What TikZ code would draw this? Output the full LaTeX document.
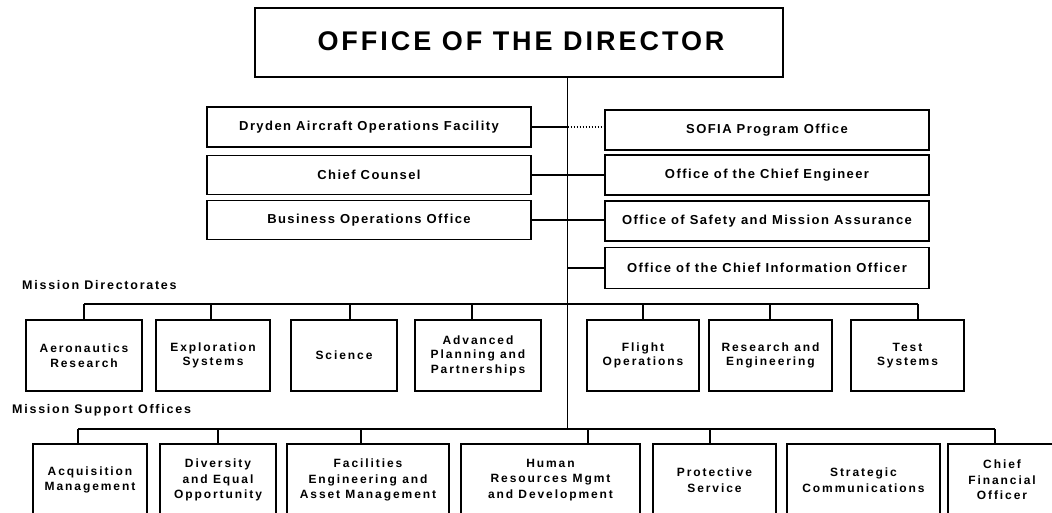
\documentclass[tikz,border=0pt]{standalone}
\usepackage{fontspec}
\setmainfont{Liberation Sans}[LetterSpace=11]
\begin{document}
\begin{tikzpicture}[x=1pt,y=-1pt,
  titlebox/.style={draw,line width=1.7pt,inner sep=0pt},
  staffbox/.style={draw,line width=1.7pt,inner sep=0pt,minimum width=324pt,font=\bfseries\fontsize{13}{15}\selectfont},
  unitbox/.style={draw,line width=1.7pt,inner sep=0pt,align=center,minimum height=71pt,font=\bfseries\fontsize{12}{14.5}\selectfont\addfontfeatures{LetterSpace=16}},
  supbox/.style={draw,line width=1.7pt,inner sep=0pt,align=center,minimum height=72pt,font=\bfseries\fontsize{12}{15.5}\selectfont\addfontfeatures{LetterSpace=16}},
  grouplabel/.style={anchor=west,inner sep=0pt,font=\bfseries\fontsize{12.5}{14}\selectfont\addfontfeatures{LetterSpace=14}},
  link/.style={line width=1.8pt},
  spineline/.style={line width=1pt}]
\clip (0,0) rectangle (1052,512);
\fill[white] (0,0) rectangle (1052,512);
% director
\node[titlebox,minimum width=528pt,minimum height=69pt] (dir) at (519,42.5) {};
\node[inner sep=0pt,font=\bfseries\fontsize{27}{30}\selectfont] (dirt) at (521,41.5) {OFFICE OF THE DIRECTOR};
% spine
\coordinate (sTop) at (567.5,77);
\coordinate (sBus1) at (567.5,304);
\coordinate (sBot) at (567.5,429);
\draw[spineline] (sTop) -- (sBot);
% staff offices left
\node[staffbox,minimum height=40pt] (dry) at (369,127) {Dryden Aircraft Operations Facility};
\node[staffbox,minimum height=39pt] (cc) at (369,175) {Chief Counsel};
\node[staffbox,minimum height=39pt] (bo) at (369,220) {Business Operations Office};
% staff offices right
\node[staffbox,minimum height=40pt] (sofia) at (767,130) {SOFIA Program Office};
\node[staffbox,minimum height=40pt] (ce) at (767,175) {Office of the Chief Engineer};
\node[staffbox,minimum height=40pt] (sma) at (767,221) {Office of Safety and Mission Assurance};
\node[staffbox,minimum height=41pt] (cio) at (767,268) {Office of the Chief Information Officer};
% staff connectors
\coordinate (jd) at (sTop |- dry.east);
\draw[link] (dry.east) -- (jd);
\draw[link,dash pattern=on 1.5pt off 1.5pt] (jd) -- (sofia.west |- jd);
\draw[link] (cc.east) -- (ce.west |- cc.east);
\draw[link] (bo.east) -- (sma.west |- bo.east);
\draw[link] (sTop |- cio.west) -- (cio.west);
% group labels
\node[grouplabel] (mdl) at (22,285) {Mission Directorates};
\node[grouplabel] (msl) at (12,410) {Mission Support Offices};
% mission directorates
\node[unitbox,minimum width=116pt] (aero) at (84,355.5) {Aeronautics\\Research};
\node[unitbox,minimum width=114pt] (expl) at (213,355.5) {Exploration\\Systems};
\node[unitbox,minimum width=106pt] (sci) at (344,355.5) {Science};
\node[unitbox,minimum width=126pt] (adv) at (478,355.5) {Advanced\\Planning and\\Partnerships};
\node[unitbox,minimum width=112pt] (fo) at (643,355.5) {Flight\\Operations};
\node[unitbox,minimum width=123pt] (re) at (770.5,355.5) {Research and\\Engineering};
\node[unitbox,minimum width=113pt] (ts) at (907.5,355.5) {Test\\Systems};
\coordinate (b1a) at (aero.north |- sBus1);
\coordinate (b1z) at ([xshift=10.5pt]ts.north |- sBus1);
\draw[link] (b1a) -- (b1z);
\draw[link] (aero.north) -- (b1a);
\draw[link] ([xshift=-2pt]expl.north) -- ([xshift=-2pt]expl.north |- sBus1);
\draw[link] ([xshift=6pt]sci.north) -- ([xshift=6pt]sci.north |- sBus1);
\draw[link] ([xshift=-6pt]adv.north) -- ([xshift=-6pt]adv.north |- sBus1);
\draw[link] (fo.north) -- (fo.north |- sBus1);
\draw[link] ([xshift=-0.5pt]re.north) -- ([xshift=-0.5pt]re.north |- sBus1);
\draw[link] ([xshift=10.5pt]ts.north) -- (b1z);
% mission support offices
\node[supbox,minimum width=114pt] (acq) at (90,480) {Acquisition\\Management};
\node[supbox,minimum width=116pt] (div) at (218,480) {Diversity\\and Equal\\Opportunity};
\node[supbox,minimum width=162pt] (fac) at (368,480) {Facilities\\Engineering and\\Asset Management};
\node[supbox,minimum width=179pt] (hr) at (550.5,480) {Human\\Resources Mgmt\\and Development};
\node[supbox,minimum width=123pt] (ps) at (714.5,480) {Protective\\Service};
\node[supbox,minimum width=153pt] (sc) at (863.5,480) {Strategic\\Communications};
\node[supbox,minimum width=108pt] (cfo) at (1002,480) {Chief\\Financial\\Officer};
\coordinate (b2a) at ([xshift=-12pt]acq.north |- sBot);
\coordinate (b2z) at ([xshift=-7pt]cfo.north |- sBot);
\draw[link] (b2a) -- (b2z);
\draw[link] ([xshift=-12pt]acq.north) -- (b2a);
\draw[link] (div.north) -- (div.north |- sBot);
\draw[link] ([xshift=-7pt]fac.north) -- ([xshift=-7pt]fac.north |- sBot);
\draw[link] ([xshift=37.5pt]hr.north) -- ([xshift=37.5pt]hr.north |- sBot);
\draw[link] ([xshift=-4.5pt]ps.north) -- ([xshift=-4.5pt]ps.north |- sBot);
\draw[link] ([xshift=-7pt]cfo.north) -- (b2z);
\end{tikzpicture}
\end{document}
